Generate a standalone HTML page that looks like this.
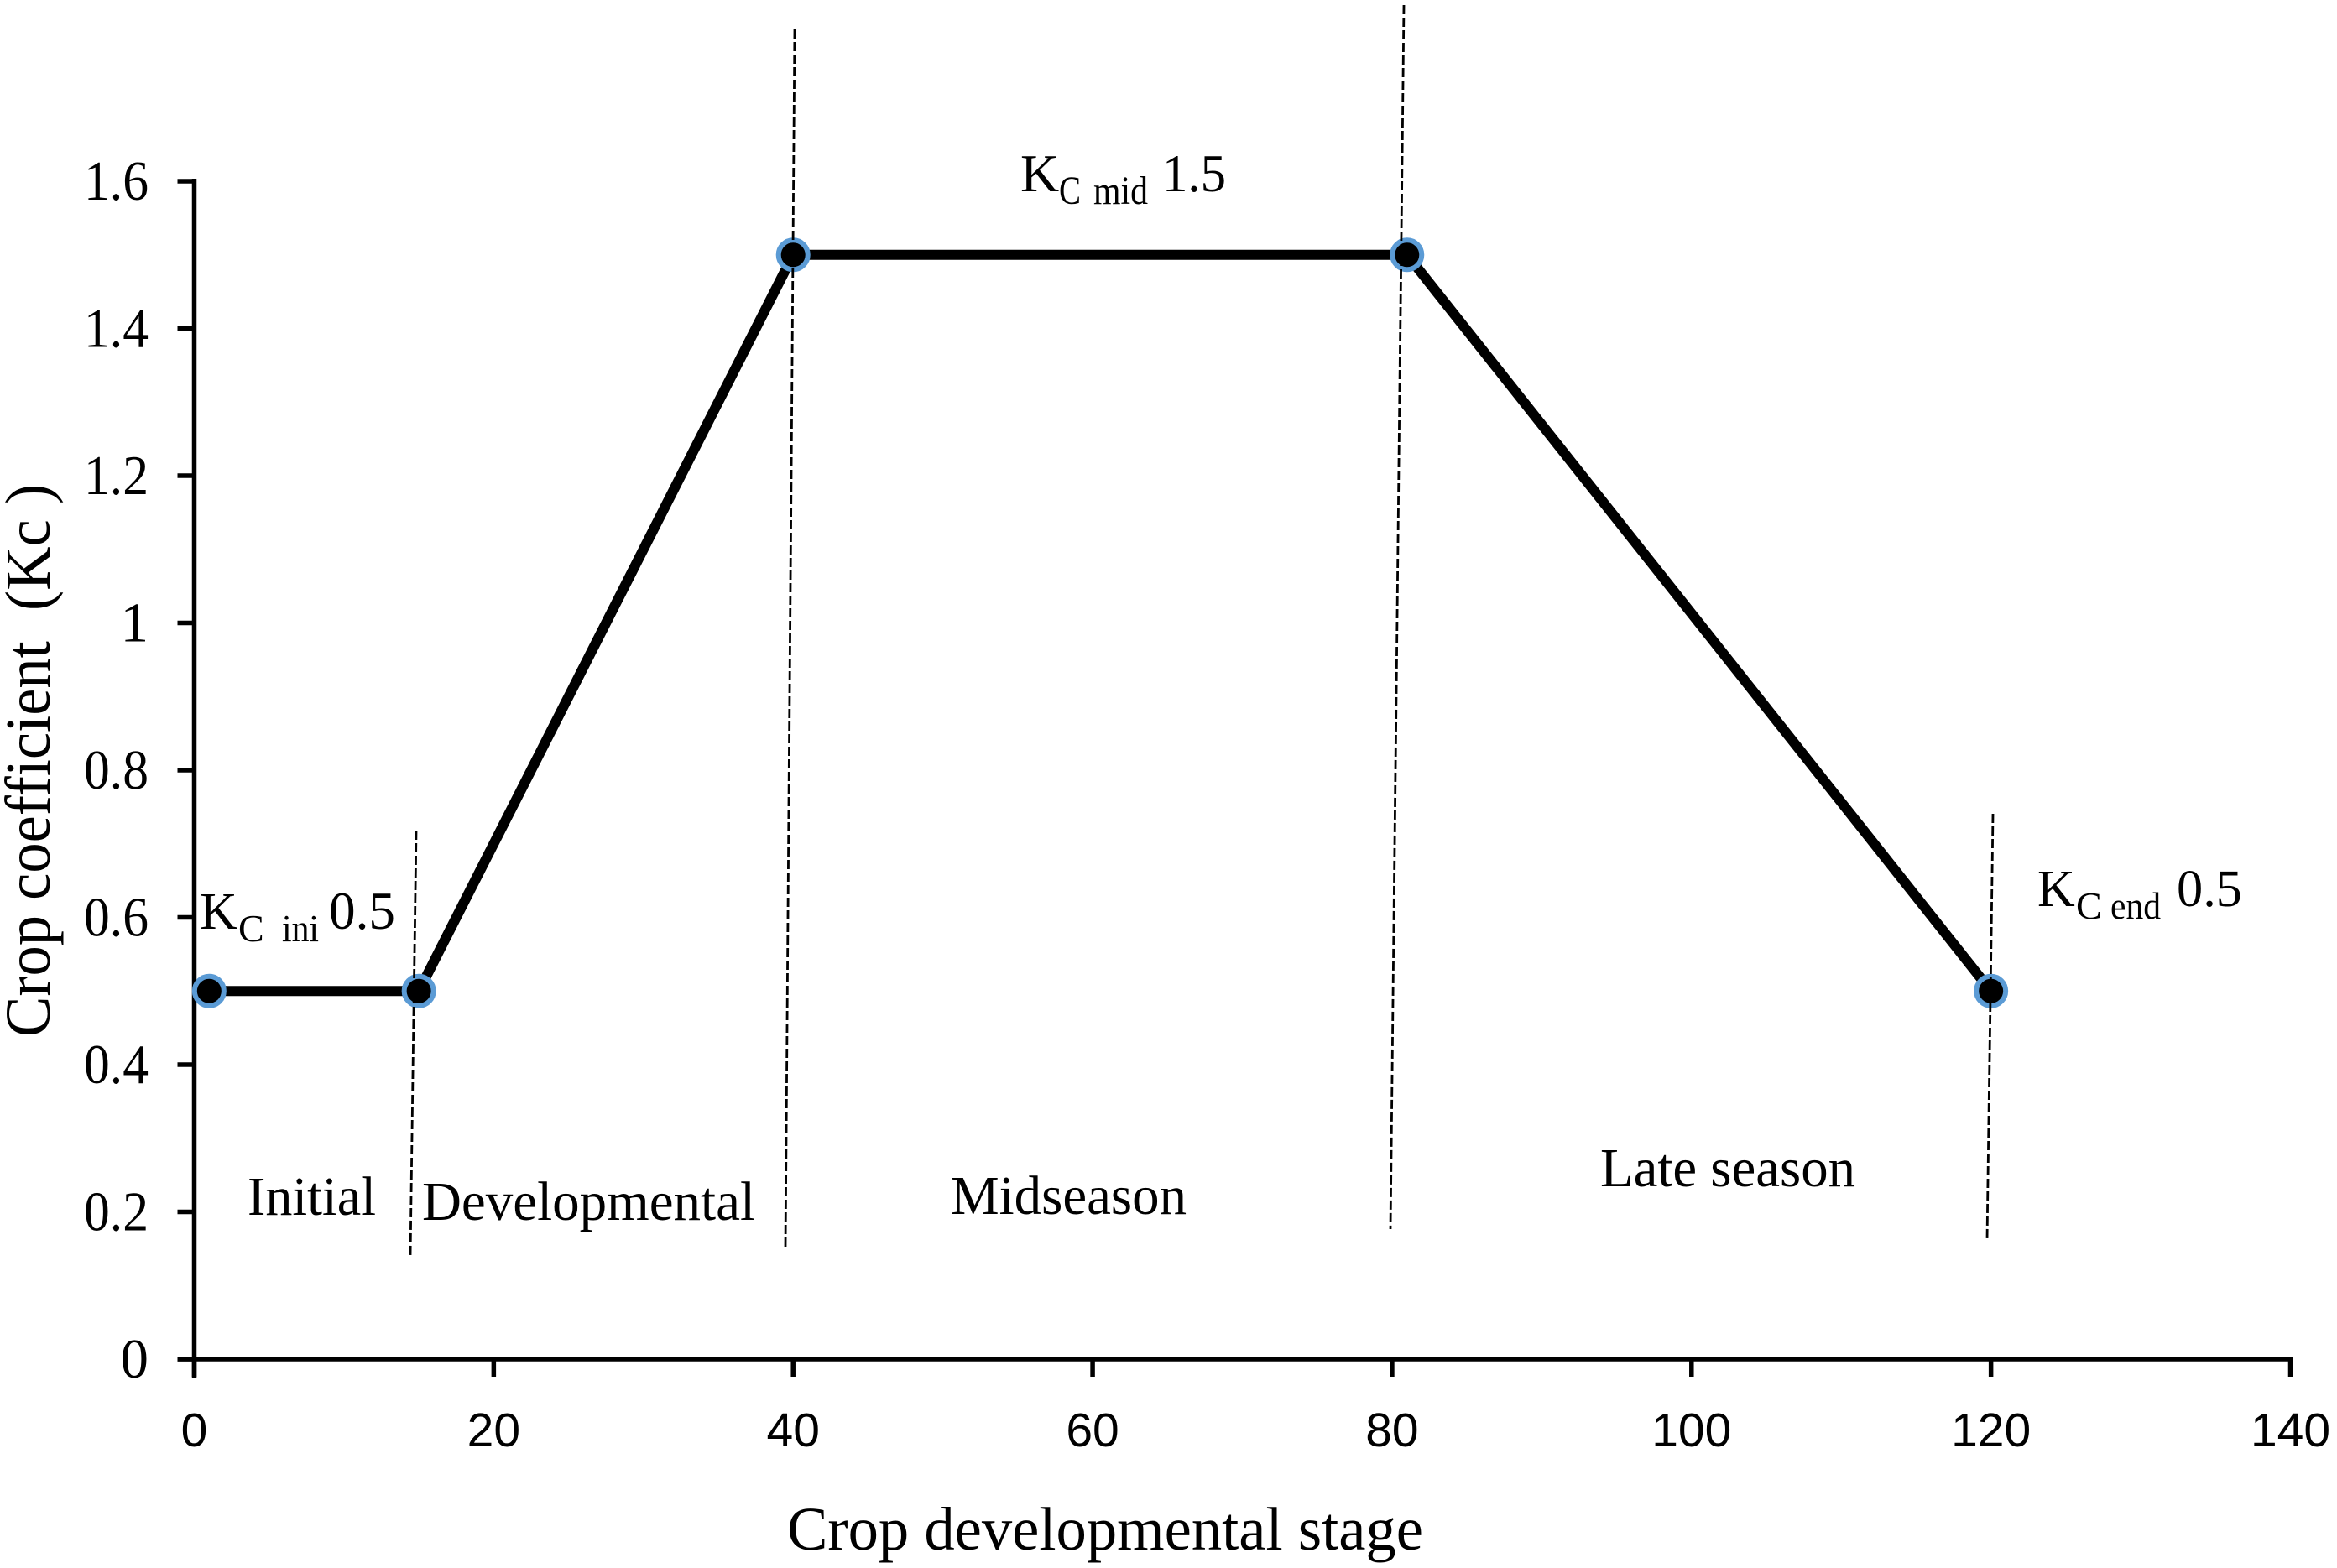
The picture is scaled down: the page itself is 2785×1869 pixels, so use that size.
<!DOCTYPE html>
<html lang="en">
<head>
<meta charset="utf-8">
<title>Crop coefficient chart</title>
<style>
html,body{margin:0;padding:0;background:#fff;width:2785px;height:1869px;overflow:hidden}
svg{display:block}
text{font-family:"Liberation Serif",serif;fill:#000}
.sans{font-family:"Liberation Sans",sans-serif}
</style>
</head>
<body>
<svg id="chart" xmlns="http://www.w3.org/2000/svg" width="2785" height="1869" viewBox="0 0 2785 1869">
  <rect width="2785" height="1869" fill="#fff"/>
  <g id="axes"></g>
  <g id="series"></g>
  <g id="dividers" stroke="#000" stroke-width="2.8" stroke-dasharray="11 4" fill="none">
    <line x1="496" y1="990" x2="489" y2="1498"/>
    <line x1="947" y1="35" x2="936" y2="1486"/>
    <line x1="1673" y1="6" x2="1657" y2="1465"/>
    <line x1="2375" y1="970" x2="2368" y2="1479"/>
  </g>

  <text transform="translate(59,1236) rotate(-90)" font-size="76" textLength="659" lengthAdjust="spacingAndGlyphs" xml:space="preserve">Crop coefficient  (Kc )</text>
  <text x="938" y="1847" font-size="73" textLength="758" lengthAdjust="spacingAndGlyphs">Crop developmental stage</text>

  <text x="295" y="1448" font-size="66" textLength="153" lengthAdjust="spacingAndGlyphs">Initial</text>
  <text x="503" y="1454" font-size="66" textLength="397" lengthAdjust="spacingAndGlyphs">Developmental</text>
  <text x="1133" y="1447" font-size="66" textLength="281" lengthAdjust="spacingAndGlyphs">Midseason</text>
  <text x="1907" y="1414" font-size="66" textLength="304" lengthAdjust="spacingAndGlyphs">Late season</text>

  <g>
    <text x="238" y="1107" font-size="62">K</text>
    <text x="284" y="1122" font-size="46">C</text>
    <text x="336" y="1122" font-size="46" textLength="44" lengthAdjust="spacingAndGlyphs">ini</text>
    <text x="392" y="1107" font-size="64" textLength="79" lengthAdjust="spacingAndGlyphs">0.5</text>
  </g>
  <g>
    <text x="1216" y="228" font-size="64">K</text>
    <text x="1262" y="243" font-size="48" textLength="26" lengthAdjust="spacingAndGlyphs">C</text>
    <text x="1303" y="243" font-size="48" textLength="65" lengthAdjust="spacingAndGlyphs">mid</text>
    <text x="1385" y="228" font-size="64" textLength="76" lengthAdjust="spacingAndGlyphs">1.5</text>
  </g>
  <g>
    <text x="2428" y="1080" font-size="62">K</text>
    <text x="2474" y="1095" font-size="46">C</text>
    <text x="2515" y="1095" font-size="46" textLength="60" lengthAdjust="spacingAndGlyphs">end</text>
    <text x="2594" y="1080" font-size="62" textLength="78" lengthAdjust="spacingAndGlyphs">0.5</text>
  </g>
</svg>
<script>
const xTickLabels = [0, 20, 40, 60, 80, 100, 120, 140];
const yTickLabels = ["0", "0.2", "0.4", "0.6", "0.8", "1", "1.2", "1.4", "1.6"];
const yTickValues = [0, 0.2, 0.4, 0.6, 0.8, 1, 1.2, 1.4, 1.6];
const stageDays = [1, 15, 40, 81, 120];
const kcValues = [0.5, 0.5, 1.5, 1.5, 0.5];

const NS = 'http://www.w3.org/2000/svg';
const sx = v => 231.5 + v * (2729.5 - 231.5) / 140;
const sy = v => 1620 - v * 877.5;

const axes = document.getElementById('axes');
const seriesGroup = document.getElementById('series');

function line(parent, x1, y1, x2, y2, w) {
  const l = document.createElementNS(NS, 'line');
  l.setAttribute('x1', x1);
  l.setAttribute('y1', y1);
  l.setAttribute('x2', x2);
  l.setAttribute('y2', y2);
  l.setAttribute('stroke', '#000');
  l.setAttribute('stroke-width', w);
  parent.appendChild(l);
  return l;
}

const yAxis = line(axes, sx(0), sy(1.6) - 3, sx(0), sy(0) + 22, 5.5);


const xAxis = line(axes, sx(0) - 20, sy(0), sx(140) + 3, sy(0), 5.5);



yTickValues.forEach((v, i) => {
  const t = line(axes, sx(0) - 20, sy(v), sx(0), sy(v), 5.5);
  
  
  const label = document.createElementNS(NS, 'text');
  
  
  label.setAttribute('x', 177);
  label.setAttribute('y', sy(v) + 22);
  label.setAttribute('font-size', 67);
  label.setAttribute('text-anchor', 'end');
  if (yTickLabels[i].length > 1) {
    label.setAttribute('textLength', 77);
    label.setAttribute('lengthAdjust', 'spacingAndGlyphs');
  }
  label.textContent = yTickLabels[i];
  axes.appendChild(label);
});

xTickLabels.forEach(v => {
  const t = line(axes, sx(v), sy(0), sx(v), sy(0) + 21, 5.5);
  
  
  const label = document.createElementNS(NS, 'text');
  
  
  label.setAttribute('class', 'sans');
  label.setAttribute('x', sx(v));
  label.setAttribute('y', 1724);
  label.setAttribute('font-size', 57);
  label.setAttribute('text-anchor', 'middle');
  label.textContent = v;
  axes.appendChild(label);
});

const path = document.createElementNS(NS, 'polyline');


path.setAttribute('points', stageDays.map((d, i) => sx(d) + ',' + sy(kcValues[i])).join(' '));
path.setAttribute('fill', 'none');
path.setAttribute('stroke', '#000');
path.setAttribute('stroke-width', 12);
path.setAttribute('stroke-linejoin', 'miter');
seriesGroup.appendChild(path);

stageDays.forEach((d, i) => {
  const c = document.createElementNS(NS, 'circle');
  
  
  c.setAttribute('cx', sx(d));
  c.setAttribute('cy', sy(kcValues[i]));
  c.setAttribute('r', 17.5);
  c.setAttribute('fill', '#000');
  c.setAttribute('stroke', '#5b9bd5');
  c.setAttribute('stroke-width', 6);
  seriesGroup.appendChild(c);
});
</script>
</body>
</html>
